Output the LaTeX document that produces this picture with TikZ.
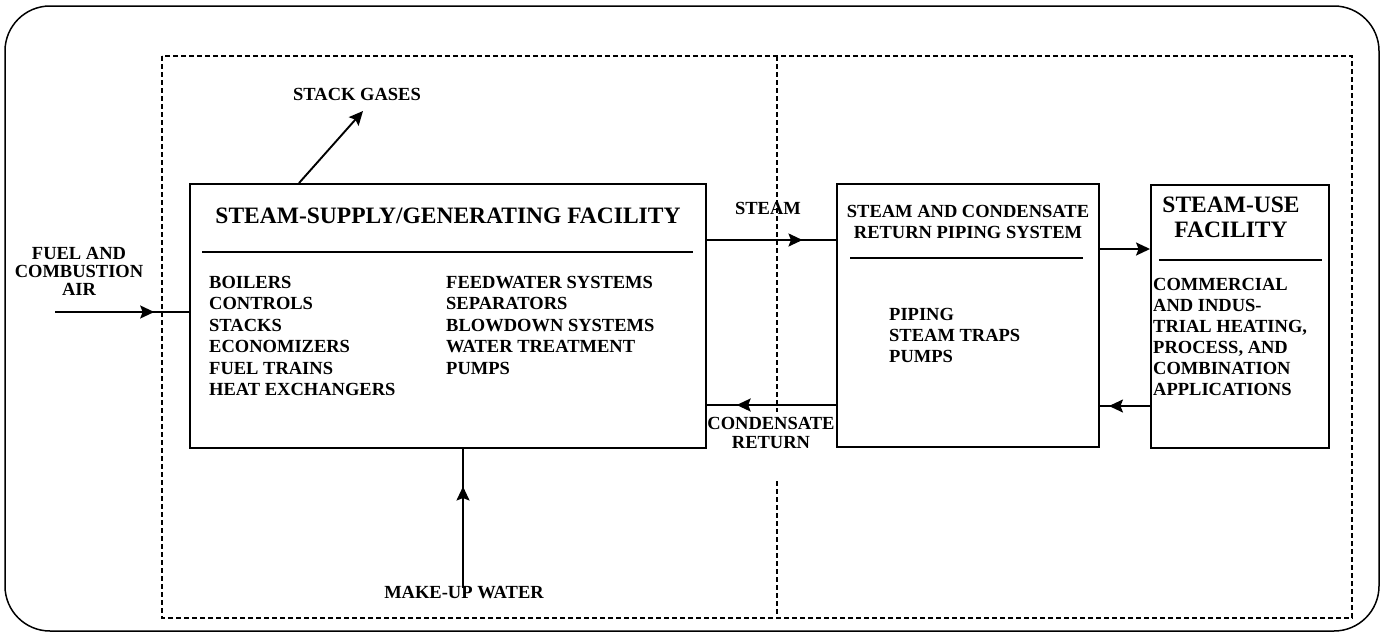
\documentclass[tikz,border=0pt]{standalone}
\usepackage{fontspec}
\setmainfont{Liberation Serif}
\usetikzlibrary{arrows.meta,decorations.markings}
\begin{document}
\begin{tikzpicture}[x=1pt,y=-1pt,
  box/.style={draw,line width=1.9pt,rectangle,inner sep=0pt},
  lbl/.style={font=\bfseries\fontsize{18.5}{18.8}\selectfont,align=center,inner sep=0pt,anchor=north},
  listtext/.style={font=\bfseries\fontsize{18.5}{21.4}\selectfont,align=left,inner sep=0pt,anchor=north west},
  bigtitle/.style={font=\bfseries\fontsize{23.5}{24.5}\selectfont,align=center,inner sep=0pt,anchor=north},
  flow/.style={line width=1.9pt},
  rulebar/.style={line width=2.2pt},
  dashline/.style={line width=1.4pt,dash pattern=on 5pt off 3pt},
  tip/.style={-{Stealth[length=14pt,width=13pt,inset=2.5pt]}},
  midarrow/.style={postaction={decorate},decoration={markings,mark=at position #1 with {\arrow{Stealth[length=14pt,width=13pt,inset=2.5pt]}}}}
]
\useasboundingbox (0,0) rectangle (1382,635);
% frames
\draw[line width=1.5pt,rounded corners=45pt] (5,6) rectangle (1379,631);
\draw[dashline] (162,56) rectangle (1352,618);
\draw[dashline] (777,56) -- (777,412);
\draw[dashline] (777,481) -- (777,618);

% boxes
\node[box,minimum width=516pt,minimum height=264pt] (supply) at (448,316) {};
\node[box,minimum width=262pt,minimum height=263pt] (piping) at (968,315.5) {};
\node[box,minimum width=178pt,minimum height=263pt] (use) at (1240,316.5) {};

% box 1 content
\node[bigtitle] (t1) at (448,208) {STEAM-SUPPLY/GENERATING FACILITY};
\draw[rulebar] (202,252) -- (693,252);
\node[listtext] (l1a) at (209,276) {BOILERS\\CONTROLS\\STACKS\\ECONOMIZERS\\FUEL TRAINS\\HEAT EXCHANGERS};
\node[listtext] (l1b) at (446,276) {FEEDWATER SYSTEMS\\SEPARATORS\\BLOWDOWN SYSTEMS\\WATER TREATMENT\\PUMPS};

% box 2 content
\node[lbl,font=\bfseries\fontsize{18.5}{21}\selectfont] (t2) at (968,205) {STEAM AND CONDENSATE\\RETURN PIPING SYSTEM};
\draw[rulebar] (850,258) -- (1083,258);
\node[listtext,font=\bfseries\fontsize{18.5}{21}\selectfont] (l2) at (889,308) {PIPING\\STEAM TRAPS\\PUMPS};

% box 3 content
\node[bigtitle] (t3) at (1231,197) {STEAM-USE\\FACILITY};
\draw[rulebar] (1159,260) -- (1322,260);
\node[listtext,font=\bfseries\fontsize{18.5}{21.1}\selectfont] (l3) at (1153,278) {COMMERCIAL\\AND INDUS-\\TRIAL HEATING,\\PROCESS, AND\\COMBINATION\\APPLICATIONS};

% labels
\node[lbl,font=\bfseries\fontsize{18.5}{18}\selectfont] (fuel) at (79,247) {FUEL AND\\COMBUSTION\\AIR};
\node[lbl] (stack) at (357,88) {STACK GASES};
\node[lbl] (steam) at (768,202) {STEAM};
\node[lbl,font=\bfseries\fontsize{18.5}{19}\selectfont] (cond) at (771,417) {CONDENSATE\\RETURN};
\node[lbl] (makeup) at (464,586) {MAKE-UP WATER};

% connectors
\coordinate (fuelstart) at (55,312);
\coordinate (stacktip) at (363,111);
\coordinate (makeupstart) at (463,588);
\draw[flow,midarrow=0.74] (fuelstart) -- (supply.west |- fuelstart);
\draw[flow,tip] (supply.north -| 299,0) -- (stacktip);
\draw[flow,midarrow=0.74] (supply.east |- 0,240) -- (piping.west |- 0,240);
\draw[flow,midarrow=0.77] (piping.west |- 0,405) -- (supply.east |- 0,405);
\draw[flow,tip] (piping.east |- 0,249) -- (use.west |- 0,249);
\draw[flow,midarrow=0.82] (use.west |- 0,406) -- (piping.east |- 0,406);
\draw[flow,midarrow=0.73] (makeupstart) -- (supply.south -| makeupstart);
\end{tikzpicture}
\end{document}
